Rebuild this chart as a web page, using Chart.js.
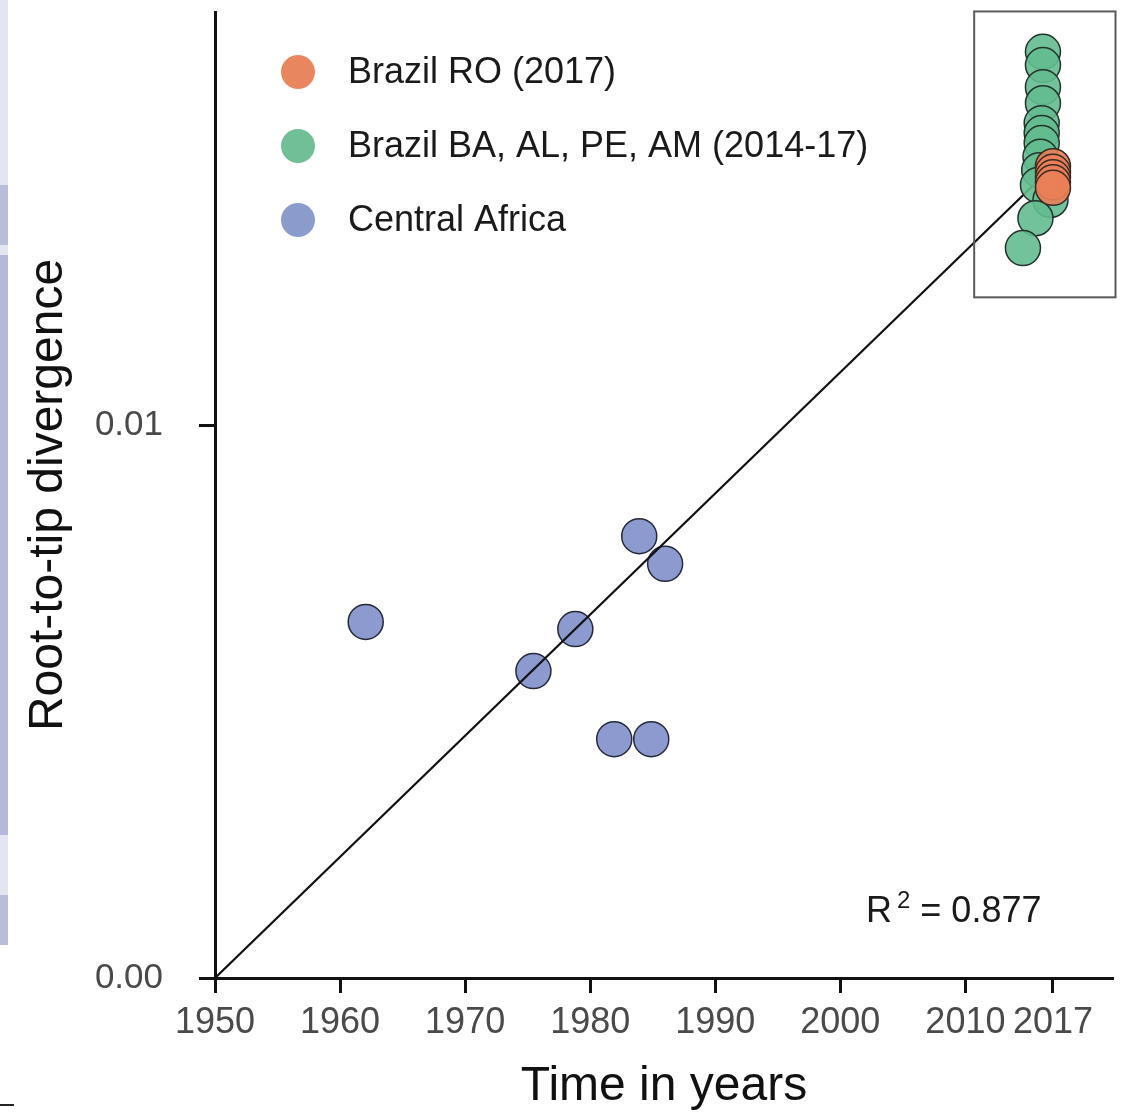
<!DOCTYPE html>
<html><head><meta charset="utf-8">
<script src="https://cdn.jsdelivr.net/npm/chart.js@4.4.1/dist/chart.umd.min.js"></script>
<style>
html,body{margin:0;padding:0;background:#fff;}
#wrap{position:relative;width:1121px;height:1117px;overflow:hidden;}
canvas{position:absolute;left:0;top:0;}
.strip{position:absolute;left:0;width:8px;}
</style></head><body>
<div id="wrap">
<canvas id="c" width="1121" height="1117"></canvas>
<div class="strip" style="top:0;height:185px;background:#e3e5f1"></div>
<div class="strip" style="top:185px;height:60px;background:#b9bddc"></div>
<div class="strip" style="top:245px;height:10px;background:#e3e5f1"></div>
<div class="strip" style="top:255px;height:580px;background:#b4b8da"></div>
<div class="strip" style="top:835px;height:60px;background:#e3e5f1"></div>
<div class="strip" style="top:895px;height:50px;background:#b9bddc"></div>
<div style="position:absolute;left:0;top:1104px;width:14px;height:2px;background:#222"></div>
</div>
<script>
// ---- data ----
const yearTicks = [1950, 1960, 1970, 1980, 1990, 2000, 2010, 2017];
const divergenceTicks = [0, 0.01];

const roYear = [2017.0, 2017.0, 2017.0, 2017.0, 2017.0];
const roDiv  = [0.01468, 0.01458, 0.01448, 0.01439, 0.01429];

const brazilYear = [2016.2, 2016.2, 2016.2, 2016.2, 2016.1, 2016.1, 2016.1, 2016.0, 2015.9, 2015.8, 2016.8, 2015.6, 2014.6];
const brazilDiv  = [0.01675, 0.01651, 0.01611, 0.01582, 0.01546, 0.01528, 0.01510, 0.01485, 0.01461, 0.01434, 0.01407, 0.01374, 0.01320];

const africaYear = [1962.05, 1975.46, 1978.81, 1983.92, 1985.99, 1981.92, 1984.88];
const africaDiv  = [0.00644, 0.00555, 0.00631, 0.00799, 0.00749, 0.00432, 0.00432];

const trendYear = [1950, 2017];
const trendDiv  = [0, 0.01468];

const insetYear = [2010.7, 2022.0];
const insetDiv  = [0.01231, 0.01748];

const r2Text = '0.877';

// ---- helpers ----
const FONT = "'Liberation Sans', Arial, Helvetica, sans-serif";
const pts = (xs, ys) => xs.map((x, i) => ({x: x, y: ys[i]}));

const insetBox = {
  id: 'insetBox',
  afterDatasetsDraw(chart) {
    const {ctx, scales: {x, y}} = chart;
    const x0 = x.getPixelForValue(insetYear[0]), x1 = x.getPixelForValue(insetYear[1]);
    const y0 = y.getPixelForValue(insetDiv[1]), y1 = y.getPixelForValue(insetDiv[0]);
    ctx.save();
    ctx.strokeStyle = '#5a5a5a';
    ctx.lineWidth = 2;
    ctx.strokeRect(x0, y0, x1 - x0, y1 - y0);
    ctx.restore();
  }
};

const insideLegend = {
  id: 'insideLegend',
  afterDraw(chart) {
    const {ctx, chartArea: a} = chart;
    const items = chart.data.datasets.filter(d => d.legendColor);
    ctx.save();
    items.forEach((d, i) => {
      const cx = a.left + 83, cy = a.top + 60 + i * 74;
      ctx.beginPath();
      ctx.arc(cx, cy, 17, 0, Math.PI * 2);
      ctx.fillStyle = d.legendColor;
      ctx.fill();
      ctx.font = '36px ' + FONT;
      ctx.fillStyle = '#1a1a1a';
      ctx.textAlign = 'left';
      ctx.textBaseline = 'middle';
      ctx.fillText(d.label, cx + 50, cy + 1);
    });
    ctx.restore();
  }
};

const r2Label = {
  id: 'r2Label',
  afterDraw(chart) {
    const {ctx, chartArea: a} = chart;
    ctx.save();
    ctx.fillStyle = '#1a1a1a';
    ctx.textAlign = 'left';
    ctx.textBaseline = 'alphabetic';
    let x = a.right - 247;
    const base = a.bottom - 56;
    ctx.font = '36px ' + FONT;
    ctx.fillText('R', x, base);
    x += ctx.measureText('R').width + 5;
    ctx.font = '24px ' + FONT;
    ctx.fillText('2', x, base - 14);
    x += ctx.measureText('2').width;
    ctx.font = '36px ' + FONT;
    ctx.fillText(' = ' + r2Text, x, base);
    ctx.restore();
  }
};

new Chart(document.getElementById('c').getContext('2d'), {
  type: 'scatter',
  data: {
    datasets: [
      {label: 'Brazil RO (2017)', data: pts(roYear, roDiv),
       backgroundColor: 'rgba(234,128,88,0.9)', borderColor: '#3b2a22', borderWidth: 1.5,
       pointRadius: 17.5, legendColor: '#e8865f', order: 1},
      {label: 'Brazil BA, AL, PE, AM (2014-17)', data: pts(brazilYear, brazilDiv),
       backgroundColor: 'rgba(99,188,144,0.9)', borderColor: '#24332b', borderWidth: 1.5,
       pointRadius: 17.5, legendColor: '#70bf97', order: 2},
      {label: 'Central Africa', data: pts(africaYear, africaDiv),
       backgroundColor: 'rgba(124,140,200,0.88)', borderColor: '#252a3a', borderWidth: 1.5,
       pointRadius: 17.5, legendColor: '#8b9bcc', order: 4},
      {label: 'trend', type: 'line', data: pts(trendYear, trendDiv),
       borderColor: '#111', borderWidth: 2.2, pointRadius: 0, showLine: true, fill: false, order: 3}
    ]
  },
  options: {
    responsive: false, animation: false, devicePixelRatio: 1, events: [],
    layout: {padding: {left: 0, right: 8, top: 12, bottom: 0}, autoPadding: false},
    plugins: {legend: {display: false}, tooltip: {enabled: false}},
    elements: {point: {hoverRadius: 17.5}},
    scales: {
      x: {
        type: 'linear', min: 1950, max: 2021.8,
        afterBuildTicks: s => { s.ticks = yearTicks.map(v => ({value: v})); },
        afterFit: s => { s.height = 139; s.paddingLeft = 0; s.paddingRight = 0; },
        ticks: {font: {family: FONT, size: 36}, color: '#4a4a4a', padding: 8, maxRotation: 0, autoSkip: false,
                callback: v => String(v)},
        grid: {display: true, drawOnChartArea: false, drawTicks: true, tickLength: 15, tickWidth: 3, tickColor: '#111'},
        border: {display: true, color: '#111', width: 3},
        title: {display: true, text: 'Time in years', color: '#111',
                font: {family: FONT, size: 48}, padding: {top: 0, bottom: 1}}
      },
      y: {
        type: 'linear', min: 0, max: 0.01747,
        afterBuildTicks: s => { s.ticks = divergenceTicks.map(v => ({value: v})); },
        afterFit: s => { s.width = 215; s.paddingTop = 0; s.paddingBottom = 0; },
        ticks: {font: {family: FONT, size: 35}, color: '#4a4a4a', padding: 36, autoSkip: false,
                callback: v => Number(v).toFixed(2)},
        grid: {display: true, drawOnChartArea: false, drawTicks: true, tickLength: 16, tickWidth: 3, tickColor: '#111'},
        border: {display: true, color: '#111', width: 3},
        title: {display: true, text: 'Root-to-tip divergence', color: '#111',
                font: {family: FONT, size: 48}, padding: {top: 20, bottom: 0}}
      }
    }
  },
  plugins: [insetBox, insideLegend, r2Label]
});
</script>
</body></html>
